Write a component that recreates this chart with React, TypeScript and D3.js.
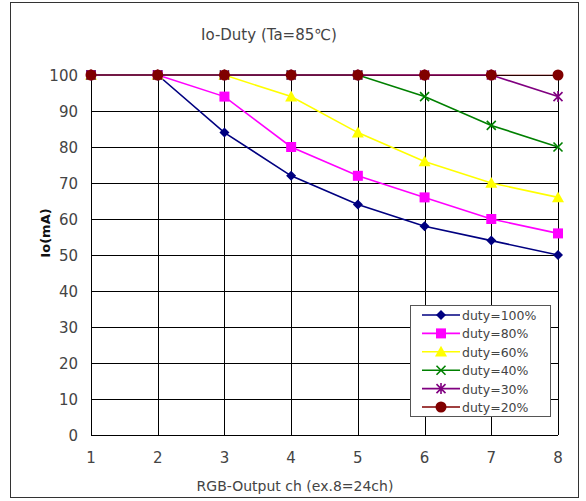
import React from "react";
import * as d3 from "d3";

const channels = [1, 2, 3, 4, 5, 6, 7, 8];
const yTicks = [0, 10, 20, 30, 40, 50, 60, 70, 80, 90, 100];
const duty100 = [100, 100, 84, 72, 64, 58, 54, 50];
const duty80 = [100, 100, 94, 80, 72, 66, 60, 56];
const duty60 = [100, 100, 100, 94, 84, 76, 70, 66];
const duty40 = [100, 100, 100, 100, 100, 94, 86, 80];
const duty30 = [100, 100, 100, 100, 100, 100, 100, 94];
const duty20 = [100, 100, 100, 100, 100, 100, 100, 100];
const seriesNames = ["duty=100%", "duty=80%", "duty=60%", "duty=40%", "duty=30%", "duty=20%"];
const seriesValues = [duty100, duty80, duty60, duty40, duty30, duty20];
const seriesColors = ["#000080", "#FF00FF", "#FFFF00", "#008000", "#800080", "#800000"];
const seriesMarkers = ["diamond", "square", "triangle", "x", "star", "circle"];

const FONT = "'DejaVu Sans', sans-serif";

function Marker({ type, x, y, color }: { type: string; x: number; y: number; color: string }) {
  if (type === "diamond") {
    const s = 5;
    return <path d={`M${x},${y - s}L${x + s},${y}L${x},${y + s}L${x - s},${y}Z`} fill={color} />;
  }
  if (type === "square") {
    const s = 5;
    return <rect x={x - s} y={y - s} width={2 * s} height={2 * s} fill={color} />;
  }
  if (type === "triangle") {
    const s = 6;
    return <path d={`M${x},${y - s}L${x + s},${y + s * 0.8}L${x - s},${y + s * 0.8}Z`} fill={color} />;
  }
  if (type === "x") {
    const s = 4.5;
    return (
      <path d={`M${x - s},${y - s}L${x + s},${y + s}M${x - s},${y + s}L${x + s},${y - s}`} stroke={color} strokeWidth={1.6} />
    );
  }
  if (type === "star") {
    const s = 4.5;
    return (
      <path
        d={`M${x - s},${y - s}L${x + s},${y + s}M${x - s},${y + s}L${x + s},${y - s}M${x},${y - s - 1}L${x},${y + s + 1}`}
        stroke={color}
        strokeWidth={1.6}
      />
    );
  }
  return <circle cx={x} cy={y} r={5.5} fill={color} />;
}

export default function App() {
  const W = 586;
  const H = 501;
  const x = d3.scaleLinear().domain([1, 8]).range([91, 558]);
  const y = d3.scaleLinear().domain([0, 100]).range([435, 75]);
  const line = d3
    .line<number>()
    .x((_, i) => x(channels[i]))
    .y((d) => y(d));

  const legendX = 410;
  const legendY = 305;

  return (
    <svg width={W} height={H} style={{ position: "absolute", left: 0, top: 0 }} fontFamily={FONT}>
      <rect x={0} y={0} width={W} height={H} fill="#fff" />
      <rect x={10.5} y={2.5} width={568} height={495} fill="#fff" stroke="#333" strokeWidth={1} />
      {/* grid */}
      {yTicks.map((t) => (
        <line key={"gy" + t} x1={x(1)} x2={x(8)} y1={Math.round(y(t)) + 0.5} y2={Math.round(y(t)) + 0.5} stroke="#000" strokeWidth={1} />
      ))}
      {channels.map((c) => (
        <line key={"gx" + c} x1={Math.round(x(c)) + 0.5} x2={Math.round(x(c)) + 0.5} y1={y(100)} y2={y(0)} stroke="#000" strokeWidth={1} />
      ))}
      {/* tick labels */}
      {yTicks.map((t) => (
        <text key={"ly" + t} x={78} y={y(t) + 5.5} textAnchor="end" fontSize={15} fill="#444">
          {t}
        </text>
      ))}
      {channels.map((c) => (
        <text key={"lx" + c} x={x(c)} y={463} textAnchor="middle" fontSize={15} fill="#444">
          {c}
        </text>
      ))}
      <text x={295} y={491} textAnchor="middle" fontSize={14} fill="#444">
        RGB-Output ch (ex.8=24ch)
      </text>
      <text x={269} y={40} textAnchor="middle" fontSize={15} fill="#444">
        Io-Duty (Ta=85℃)
      </text>
      <text transform={`translate(50,233) rotate(-90)`} textAnchor="middle" fontSize={13} fontWeight="bold" fill="#111">
        Io(mA)
      </text>
      {/* series */}
      {seriesValues.map((vals, si) => (
        <path
          key={"s" + si}
          d={line(vals) || ""}
          fill="none"
          stroke={seriesColors[si]}
          strokeWidth={si === 5 ? 1.2 : 1.6}
          strokeOpacity={si === 5 ? 0.6 : 1}
        />
      ))}
      {seriesValues.map((vals, si) =>
        vals.map((v, i) => (
          <Marker key={"m" + si + "-" + i} type={seriesMarkers[si]} x={x(channels[i])} y={y(v)} color={seriesColors[si]} />
        ))
      )}
      {/* legend */}
      <rect x={legendX + 0.5} y={legendY + 0.5} width={140} height={111} fill="#fff" stroke="#555" strokeWidth={1} />
      {seriesNames.map((n, i) => {
        const ly = legendY + 10 + i * 18.4;
        return (
          <g key={"lg" + i}>
            <line x1={legendX + 12} x2={legendX + 50} y1={ly} y2={ly} stroke={seriesColors[i]} strokeWidth={1.6} />
            <Marker type={seriesMarkers[i]} x={legendX + 31} y={ly} color={seriesColors[i]} />
            <text x={legendX + 52} y={ly + 5} fontSize={12.5} fill="#444">
              {n}
            </text>
          </g>
        );
      })}
    </svg>
  );
}
